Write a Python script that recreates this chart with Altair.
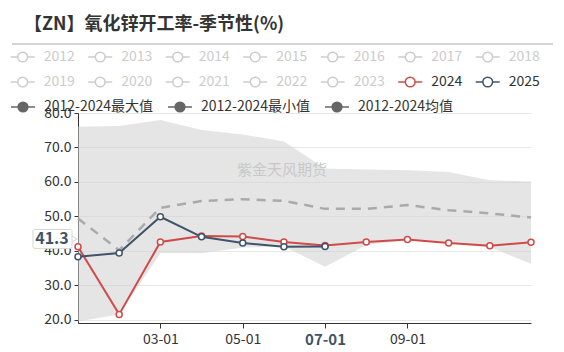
import altair as alt
import pandas as pd

# ---------------- data ----------------
months = list(range(12))
y2024 = [41.2, 21.6, 42.6, 44.3, 44.2, 42.6, 41.6, 42.6, 43.3, 42.3, 41.5, 42.5]
y2025 = [38.3, 39.4, 49.9, 44.1, 42.3, 41.2, 41.3]
mean_vals = [49.4, 40.2, 52.5, 54.5, 55.0, 54.5, 52.2, 52.2, 53.3, 51.8, 50.9, 49.7]
max_vals = [76.0, 76.2, 78.0, 75.1, 73.8, 71.7, 63.9, 63.6, 63.4, 62.9, 60.5, 60.1]
min_vals = [19.5, 21.6, 39.3, 39.3, 41.0, 41.3, 35.4, 41.7, 43.2, 42.2, 41.1, 36.3]
tick_vals = [2, 4, 6, 8]
tick_labels = ["03-01", "05-01", "07-01", "09-01"]
y_ticks = [20, 30, 40, 50, 60, 70, 80]
legend_years = [str(y) for y in range(2012, 2026)]
legend_stats = ["2012-2024最大值", "2012-2024最小值", "2012-2024均值"]
title_text = "【ZN】氧化锌开工率-季节性(%)"
watermark = "紫金天风期货"

RED = "#d04a4a"
BLUE = "#3f5468"
FONT = "Noto Sans CJK SC"

df_band = pd.DataFrame({"m": months, "lo": min_vals, "hi": max_vals, "mean": mean_vals})
df24 = pd.DataFrame({"m": months, "v": y2024})
df25 = pd.DataFrame({"m": months[:len(y2025)], "v": y2025})
df_last = pd.DataFrame({"v": [y2025[-1]], "t": [f"{y2025[-1]:.1f}"]})

label_expr = " : ".join(
    [f"datum.value == {v} ? '{t}'" for v, t in zip(tick_vals, tick_labels)] + ["''"]
)

xs = alt.Scale(domain=[0, 11], nice=False, zero=False)
ys = alt.Scale(domain=[19.1, 80], nice=False, zero=False)

x_axis = alt.Axis(
    values=tick_vals, labelExpr=label_expr, grid=False, domainColor="#333",
    tickColor="#333", tickSize=5, labelFont=FONT, labelPadding=4,
    labelFontSize={"condition": {"test": "datum.value == 6", "value": 15}, "value": 14},
    labelFontWeight={"condition": {"test": "datum.value == 6", "value": "bold"}, "value": "normal"},
    labelColor={"condition": {"test": "datum.value == 6", "value": BLUE}, "value": "#333"},
    title=None,
)
y_axis = alt.Axis(
    values=y_ticks, format=".1f", gridColor="#e8e8e8", domainColor="#333",
    tickColor="#333", tickSize=4, labelFont=FONT, labelFontSize=14,
    labelColor="#333", title=None, labelPadding=3, labelOverlap=False,
    labelBound=False, labelFlush=False,
)

def X(f):
    return alt.X(f, scale=xs, axis=x_axis)

def Y(f):
    return alt.Y(f, scale=ys, axis=y_axis)

band = alt.Chart(df_band).mark_area(color="#d0d0d0", opacity=0.55).encode(
    x=X("m:Q"), y=Y("lo:Q"), y2="hi:Q"
)
mean_line = alt.Chart(df_band).mark_line(
    color="#aaaaaa", strokeWidth=2.5, strokeDash=[9, 7]
).encode(x=X("m:Q"), y=Y("mean:Q"))

def series(df, color):
    line = alt.Chart(df).mark_line(color=color, strokeWidth=2).encode(
        x=X("m:Q"), y=Y("v:Q")
    )
    pts = alt.Chart(df).mark_point(
        shape="circle", filled=True, fill="white", stroke=color, strokeWidth=1.5,
        size=36, opacity=1
    ).encode(x=X("m:Q"), y=Y("v:Q"))
    return line + pts

s24 = series(df24, RED)
s25 = series(df25, BLUE)

wm = alt.Chart(pd.DataFrame({"t": [watermark]})).mark_text(
    font=FONT, fontSize=15, color="#c8c8c8"
).encode(text="t:N", x=alt.value(204), y=alt.value(57))

arrow = alt.Chart(df_last).mark_point(
    shape="triangle-right", size=90, filled=True, fill="white",
    stroke="#d6d6d6", strokeWidth=1, opacity=1, yOffset=-7.5
).encode(x=alt.value(-5), y=Y("v:Q"))
box = alt.Chart(df_last).mark_rect(
    fill="white", stroke="#d6d6d6", strokeWidth=1, yOffset=-17, y2Offset=2,
    cornerRadius=2
).encode(x=alt.value(-45), x2=alt.value(-6), y=Y("v:Q"), y2="v:Q")
box_text = alt.Chart(df_last).mark_text(
    font=FONT, fontSize=16, fontWeight="bold", color=BLUE, yOffset=-7
).encode(x=alt.value(-26), y=Y("v:Q"), text="t:N")

main = alt.layer(band, mean_line, s24, s25, wm, arrow, box, box_text)

# ---------------- custom legend + title ----------------
rows = []
for i, name in enumerate(legend_years):
    r, c = divmod(i, 7)
    if name == "2024":
        col, tcol = RED, "#333333"
    elif name == "2025":
        col, tcol = BLUE, "#333333"
    else:
        col, tcol = "#cccccc", "#cccccc"
    cx = 22.7 + 77.5 * c - 78
    rows.append({"name": name, "cx": cx, "cy": [-56, -31][r], "col": col,
                 "tcol": tcol, "fill": "white"})
for i, name in enumerate(legend_stats):
    cx = 23 + 157 * i - 78
    rows.append({"name": name, "cx": cx, "cy": -6, "col": "#666666",
                 "tcol": "#333333", "fill": "#666666"})
leg = pd.DataFrame(rows)
leg["x1"] = leg["cx"] - 12
leg["x2"] = leg["cx"] + 12
leg["tx"] = leg["cx"] + 21

lx = dict(scale=None, axis=None)
leg_line = alt.Chart(leg).mark_rule(strokeWidth=1.5).encode(
    x=alt.X("x1:Q", **lx), x2="x2:Q", y=alt.Y("cy:Q", **lx),
    color=alt.Color("col:N", scale=None),
)
leg_pt = alt.Chart(leg).mark_point(shape="circle", strokeWidth=1.5, size=95, opacity=1, filled=True).encode(
    x=alt.X("cx:Q", **lx), y=alt.Y("cy:Q", **lx),
    stroke=alt.Stroke("col:N", scale=None), fill=alt.Fill("fill:N", scale=None),
)
leg_txt = alt.Chart(leg).mark_text(align="left", baseline="middle", font=FONT, fontSize=14).encode(
    x=alt.X("tx:Q", **lx), y=alt.Y("cy:Q", **lx), text="name:N",
    color=alt.Color("tcol:N", scale=None),
)
title = alt.Chart(pd.DataFrame({"t": [title_text]})).mark_text(
    font=FONT, fontSize=18, fontWeight="bold", color="#333333"
).encode(text="t:N", x=alt.value(76), y=alt.value(-88))
title_rule = alt.Chart(pd.DataFrame({"a": [0]})).mark_rule(color="#aaaaaa", strokeWidth=1).encode(
    x=alt.value(-66), x2=alt.value(475), y=alt.value(-69)
)

overlay = alt.layer(leg_line, leg_pt, leg_txt, title, title_rule)

chart = alt.layer(main, overlay).resolve_scale(
    x="independent", y="independent", color="independent"
).properties(
    width=453, height=210,
    autosize=alt.AutoSizeParams(type="none"),
    padding={"left": 78, "top": 113, "right": 33, "bottom": 29},
).configure_view(stroke=None)

chart.save("out.html", embed_options={"renderer": "svg", "actions": False})
